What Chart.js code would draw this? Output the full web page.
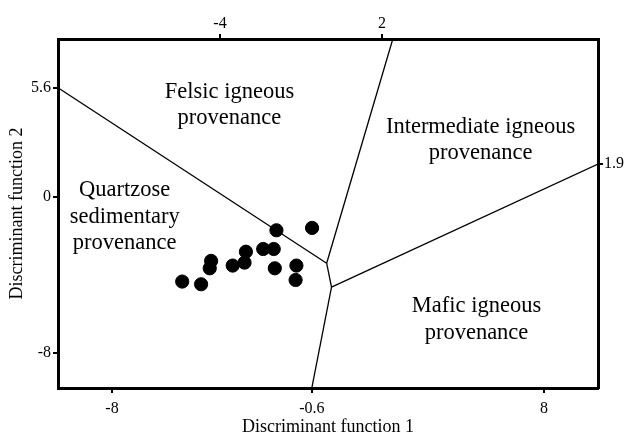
<!DOCTYPE html>
<html><head><meta charset="utf-8">
<script src="https://cdn.jsdelivr.net/npm/chart.js@4/dist/chart.umd.min.js"></script>
<style>html,body{margin:0;padding:0;background:#fff}#wrap{width:624px;height:438px}</style>
</head><body><div id="wrap"><canvas id="c" width="624" height="438"></canvas></div>
<script>
// Sample points (Discriminant function 1, Discriminant function 2)
const df1 = [-5.40,-4.70,-4.33,-4.38,-3.53,-3.09,-3.04,-2.40,-2.01,-1.91,-1.97,-1.17,-1.20,-0.59];
const df2 = [-4.34,-4.48,-3.28,-3.66,-3.52,-3.37,-2.81,-2.67,-2.67,-1.71,-3.66,-3.52,-4.26,-1.59];
// Field boundaries (polylines)
const boundaryFQ = [[-10,5.6],[-0.05,-3.4]];
const boundaryFI = [[-0.05,-3.4],[2.4,8.1]];
const boundaryMid = [[-0.05,-3.4],[0.13,-4.63]];
const boundaryIM = [[0.13,-4.63],[10,1.69]];
const boundaryQM = [[0.13,-4.63],[-0.6,-9.8]];
// Tick values and labels
const bottomTicks = [-8,-0.6,8];
const bottomLabels = ["-8","-0.6","8"];
const topTicks = [-4,2];
const topLabels = ["-4","2"];
const leftTicks = [5.6,0,-8];
const leftLabels = ["5.6","0","-8"];
const rightTicks = [1.69];
const rightLabels = ["1.9"];
// Field names
const fieldNames = [
  ["Felsic igneous","provenance"],
  ["Intermediate igneous","provenance"],
  ["Quartzose","sedimentary","provenance"],
  ["Mafic igneous","provenance"]
];
const fieldAnchors = [[-3.65,5.4],[5.65,3.6],[-7.53,0.35],[5.5,-5.6]];

const FONT = "'Liberation Serif','Times New Roman',serif";
const toXY = a => a.map(p => ({x:p[0], y:p[1]}));
const lineDs = d => ({type:'line', data:toXY(d), borderColor:'#000', borderWidth:1.3, pointRadius:0, showLine:true, fill:false, order:2});

const fieldText = {
  id:'fieldText',
  afterDatasetsDraw(chart){
    const ctx = chart.ctx, xs = chart.scales.x, ys = chart.scales.y;
    ctx.save();
    ctx.fillStyle = '#000';
    ctx.font = '22.5px ' + FONT;
    ctx.textAlign = 'center';
    ctx.textBaseline = 'middle';
    fieldNames.forEach((lines,i) => {
      const cx = xs.getPixelForValue(fieldAnchors[i][0]);
      const cy = ys.getPixelForValue(fieldAnchors[i][1]);
      lines.forEach((t,j) => ctx.fillText(t, cx, cy + j*26.5));
    });
    ctx.restore();
  }
};

function fixed(size){ return function(s){ if (s.isHorizontal()) s.height = size; else s.width = size; }; }
function setTicks(vals){ return function(s){ s.ticks = vals.map(v => ({value:v})); }; }
function labelFn(vals, labels){ return function(v){ const i = vals.findIndex(t => Math.abs(t-v) < 1e-6); return i >= 0 ? labels[i] : ''; }; }

const gridOpt = {display:true, drawOnChartArea:false, drawTicks:true, tickLength:5, color:'#000', lineWidth:2};
const borderOpt = {display:true, color:'#000', width:3};
const tickFont = {family:FONT, size:16};

new Chart(document.getElementById('c'), {
  type:'scatter',
  data:{datasets:[
    {data:df1.map((x,i)=>({x, y:df2[i]})), backgroundColor:'#000', borderColor:'#000', pointRadius:6.6, pointHoverRadius:6.6, order:1},
    lineDs(boundaryFQ), lineDs(boundaryFI), lineDs(boundaryMid), lineDs(boundaryIM), lineDs(boundaryQM)
  ]},
  options:{
    responsive:false, animation:false, devicePixelRatio:1,
    layout:{padding:0},
    plugins:{legend:{display:false}, tooltip:{enabled:false}},
    scales:{
      x:{type:'linear', position:'bottom', min:-10, max:10,
         afterBuildTicks:setTicks(bottomTicks), afterFit:fixed(50),
         ticks:{callback:labelFn(bottomTicks,bottomLabels), color:'#000', font:tickFont, padding:6, maxRotation:0, autoSkip:false},
         grid:gridOpt, border:borderOpt,
         title:{display:true, text:'Discriminant function 1', color:'#000', font:{family:FONT, size:18}, padding:{top:0,bottom:0}}},
      x2:{type:'linear', position:'top', min:-10, max:10,
         afterBuildTicks:setTicks(topTicks), afterFit:fixed(39),
         ticks:{callback:labelFn(topTicks,topLabels), color:'#000', font:tickFont, padding:1, maxRotation:0, autoSkip:false},
         grid:gridOpt, border:borderOpt},
      y:{type:'linear', position:'left', min:-9.8, max:8.1,
         afterBuildTicks:setTicks(leftTicks), afterFit:fixed(58),
         ticks:{callback:labelFn(leftTicks,leftLabels), color:'#000', font:tickFont, padding:2, autoSkip:false},
         grid:gridOpt, border:borderOpt,
         title:{display:true, text:'Discriminant function 2', color:'#000', font:{family:FONT, size:18}, padding:{top:6,bottom:0}}},
      y2:{type:'linear', position:'right', min:-9.8, max:8.1,
         afterBuildTicks:setTicks(rightTicks), afterFit:fixed(26),
         ticks:{callback:labelFn(rightTicks,rightLabels), color:'#000', font:tickFont, padding:1, autoSkip:false},
         grid:gridOpt, border:borderOpt}
    }
  },
  plugins:[fieldText]
});
</script></body></html>
